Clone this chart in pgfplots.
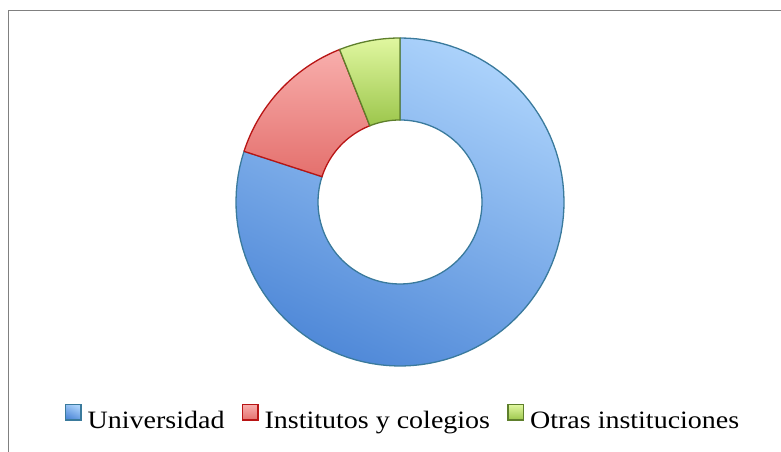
\documentclass[border=0pt]{standalone}
\usepackage{fontspec}
\setmainfont{Liberation Serif}[FakeStretch=1.12]
\usepackage{pgfplots}
\pgfplotsset{compat=1.18}
\definecolor{uniB}{HTML}{3A7A9C}
\definecolor{uniT}{HTML}{ABD2FB}
\definecolor{uniD}{HTML}{5089D8}
\definecolor{insB}{HTML}{B81414}
\definecolor{insT}{HTML}{F8AEAC}
\definecolor{insD}{HTML}{E4706D}
\definecolor{otrB}{HTML}{5E7F2C}
\definecolor{otrT}{HTML}{E0F7A0}
\definecolor{otrD}{HTML}{9CC64C}
\definecolor{frame}{HTML}{808080}
% data (percent)
\def\vA{80}\def\vB{14}\def\vC{6}
\pgfmathsetmacro\aA{90}
\pgfmathsetmacro\aB{90-3.6*\vA}
\pgfmathsetmacro\aC{\aB-3.6*\vB}
\pgfmathsetmacro\aD{\aC-3.6*\vC}
\newcommand\wedgeplot[3]{%
 \addplot[#3, domain=0:4, samples=401, variable=\t]
  ({400+((\t<1) ? 164 : ((\t<2) ? (164-82*(\t-1)) : ((\t<3) ? 82 : (82+82*(\t-3)))))*cos((\t<1) ? (#1+(#2-#1)*\t) : ((\t<2) ? #2 : ((\t<3) ? (#2-(#2-#1)*(\t-2)) : #1)))},
   {250+((\t<1) ? 164 : ((\t<2) ? (164-82*(\t-1)) : ((\t<3) ? 82 : (82+82*(\t-3)))))*sin((\t<1) ? (#1+(#2-#1)*\t) : ((\t<2) ? #2 : ((\t<3) ? (#2-(#2-#1)*(\t-2)) : #1)))});
}
\begin{document}
\begin{tikzpicture}
\begin{axis}[
  at={(0,0)}, anchor=south west,
  scale only axis, width=781pt, height=452pt,
  xmin=0, xmax=781, ymin=0, ymax=452,
  hide axis, clip=false,
  legend columns=3,
  legend style={at={(axis cs:403,34)}, anchor=center, draw=none, fill=none,
    font=\fontsize{25}{30}\selectfont, inner sep=0pt,
    /tikz/every even column/.append style={column sep=15pt},
    /tikz/every odd column/.append style={column sep=4pt}},
  legend image code/.code={\path[#1, line width=1.6pt] (0.8pt,0.8pt) rectangle (16.2pt,16.2pt);},
]
\wedgeplot{\aA}{\aB}{draw=uniB, line width=1.3pt, top color=uniT, bottom color=uniD, shading angle=-25}
\addlegendentry{Universidad}
\wedgeplot{\aB}{\aC}{draw=insB, line width=1.3pt, top color=insT, bottom color=insD}
\addlegendentry{Institutos y colegios}
\wedgeplot{\aC}{\aD}{draw=otrB, line width=1.3pt, top color=otrT, bottom color=otrD}
\addlegendentry{Otras instituciones}
\draw[frame, line width=1.5pt] (axis cs:8.5,0) -- (axis cs:8.5,441.5) -- (axis cs:781,441.5);
\end{axis}
\pgfresetboundingbox
\path[use as bounding box] (0,0) rectangle (781pt,452pt);
\end{tikzpicture}
\end{document}
